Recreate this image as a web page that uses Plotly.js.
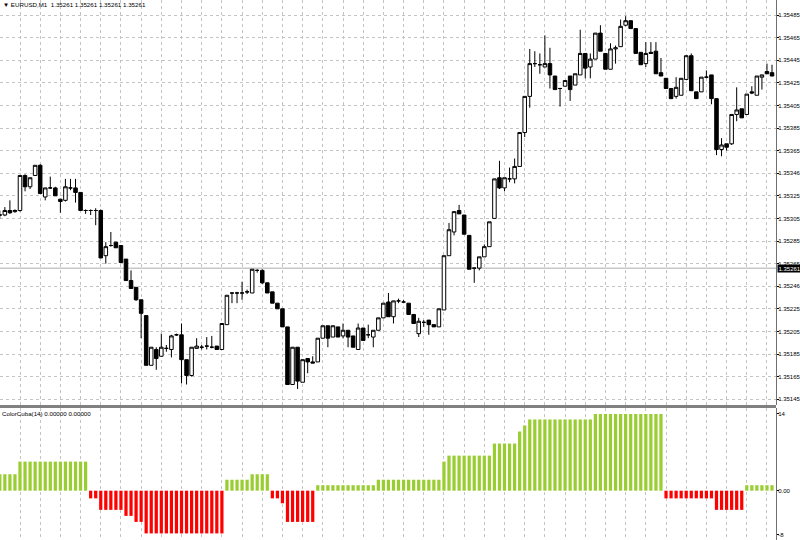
<!DOCTYPE html>
<html><head><meta charset="utf-8">
<script src="https://cdn.plot.ly/plotly-3.0.1.min.js"></script>
<style>html,body{margin:0;padding:0;background:#fff;}#chart{width:800px;height:540px;}</style>
</head><body><div id="chart"></div>
<script>
const symbolTitle = "EURUSD,M1";
const titleQuote = ["1.35261", "1.35261", "1.35261", "1.35261"];
const indicatorName = "ColorCuba(14)";
const indicatorQuote = ["0.00000", "0.00000"];
const currentPrice = 1.35261;
const currentPriceLabel = "1.35261";

const priceTickValues = [1.35485,1.35465,1.35445,1.35425,1.35405,1.35385,1.35365,1.35345,1.35325,1.35305,1.35285,1.35265,1.35245,1.35225,1.35205,1.35185,1.35165,1.35145];
const priceTickLabels = ["1.35485","1.35465","1.35445","1.35425","1.35405","1.35385","1.35365","1.35346","1.35325","1.35305","1.35285","1.35265","1.35246","1.35225","1.35205","1.35185","1.35165","1.35145"];

const open = [
1.35308,1.35308,1.35312,1.35311,1.35312,1.35343,1.35333,1.35343,1.35352,1.35324,
1.35332,1.35332,1.35322,1.35321,1.35332,1.35332,1.35328,1.35312,1.35312,1.35312,
1.35312,1.35272,1.35281,1.35284,1.35281,1.35269,1.35250,1.35244,1.35233,1.35219,
1.35175,1.35189,1.35183,1.35190,1.35189,1.35202,1.35202,1.35180,1.35166,1.35190,
1.35191,1.35192,1.35191,1.35192,1.35189,1.35211,1.35239,1.35239,1.35239,1.35240,
1.35239,1.35259,1.35259,1.35248,1.35240,1.35230,1.35225,1.35209,1.35158,1.35191,
1.35160,1.35181,1.35178,1.35178,1.35199,1.35210,1.35200,1.35209,1.35201,1.35206,
1.35201,1.35189,1.35208,1.35202,1.35200,1.35206,1.35217,1.35231,1.35218,1.35232,
1.35231,1.35230,1.35220,1.35203,1.35213,1.35215,1.35211,1.35209,1.35224,1.35272,
1.35293,1.35312,1.35308,1.35290,1.35261,1.35261,1.35271,1.35280,1.35305,1.35341,
1.35332,1.35340,1.35340,1.35351,1.35381,1.35413,1.35442,1.35441,1.35439,1.35442,
1.35431,1.35420,1.35422,1.35431,1.35423,1.35432,1.35451,1.35439,1.35446,1.35469,
1.35451,1.35437,1.35455,1.35457,1.35476,1.35480,1.35473,1.35452,1.35442,1.35452,
1.35453,1.35434,1.35429,1.35420,1.35413,1.35414,1.35428,1.35449,1.35417,1.35417,
1.35430,1.35432,1.35411,1.35366,1.35371,1.35371,1.35397,1.35402,1.35397,1.35417,
1.35414,1.35430,1.35435,1.35434];
const high = [
1.35312,1.35315,1.35321,1.35313,1.35343,1.35344,1.35341,1.35352,1.35353,1.35332,
1.35342,1.35333,1.35322,1.35340,1.35340,1.35340,1.35328,1.35313,1.35313,1.35314,
1.35313,1.35284,1.35293,1.35284,1.35281,1.35269,1.35259,1.35244,1.35233,1.35219,
1.35191,1.35191,1.35203,1.35193,1.35202,1.35203,1.35212,1.35180,1.35191,1.35199,
1.35193,1.35200,1.35201,1.35192,1.35212,1.35237,1.35239,1.35240,1.35249,1.35242,
1.35260,1.35260,1.35260,1.35248,1.35240,1.35230,1.35225,1.35209,1.35191,1.35191,
1.35180,1.35181,1.35183,1.35199,1.35210,1.35210,1.35210,1.35209,1.35212,1.35206,
1.35201,1.35212,1.35208,1.35211,1.35206,1.35217,1.35230,1.35239,1.35232,1.35234,
1.35233,1.35230,1.35220,1.35217,1.35215,1.35215,1.35211,1.35225,1.35272,1.35301,
1.35311,1.35317,1.35308,1.35290,1.35261,1.35271,1.35282,1.35302,1.35340,1.35356,
1.35341,1.35350,1.35358,1.35381,1.35413,1.35455,1.35453,1.35451,1.35467,1.35456,
1.35431,1.35420,1.35427,1.35431,1.35433,1.35472,1.35451,1.35451,1.35469,1.35476,
1.35451,1.35460,1.35458,1.35481,1.35484,1.35480,1.35473,1.35452,1.35461,1.35461,
1.35461,1.35447,1.35429,1.35420,1.35430,1.35429,1.35449,1.35451,1.35417,1.35430,
1.35436,1.35432,1.35411,1.35376,1.35371,1.35397,1.35421,1.35402,1.35415,1.35422,
1.35431,1.35432,1.35442,1.35441];
const low = [
1.35305,1.35307,1.35309,1.35310,1.35311,1.35329,1.35331,1.35343,1.35327,1.35321,
1.35331,1.35325,1.35310,1.35320,1.35330,1.35319,1.35312,1.35309,1.35308,1.35299,
1.35270,1.35265,1.35280,1.35279,1.35266,1.35250,1.35243,1.35232,1.35199,1.35175,
1.35175,1.35171,1.35183,1.35187,1.35182,1.35201,1.35159,1.35158,1.35165,1.35190,
1.35189,1.35189,1.35190,1.35189,1.35189,1.35211,1.35230,1.35230,1.35233,1.35238,
1.35239,1.35257,1.35247,1.35239,1.35230,1.35225,1.35209,1.35158,1.35158,1.35154,
1.35160,1.35168,1.35177,1.35178,1.35199,1.35191,1.35200,1.35200,1.35199,1.35191,
1.35191,1.35189,1.35197,1.35199,1.35191,1.35206,1.35217,1.35218,1.35212,1.35230,
1.35230,1.35220,1.35212,1.35200,1.35209,1.35202,1.35209,1.35209,1.35224,1.35272,
1.35290,1.35309,1.35291,1.35260,1.35248,1.35259,1.35271,1.35280,1.35305,1.35331,
1.35329,1.35337,1.35336,1.35351,1.35377,1.35403,1.35439,1.35433,1.35439,1.35420,
1.35419,1.35404,1.35422,1.35409,1.35423,1.35432,1.35429,1.35429,1.35446,1.35453,
1.35437,1.35437,1.35442,1.35457,1.35475,1.35473,1.35451,1.35441,1.35439,1.35451,
1.35433,1.35431,1.35420,1.35411,1.35411,1.35414,1.35428,1.35418,1.35411,1.35417,
1.35429,1.35406,1.35361,1.35360,1.35365,1.35370,1.35391,1.35394,1.35397,1.35415,
1.35414,1.35419,1.35433,1.35431];
const close = [
1.35308,1.35312,1.35310,1.35312,1.35343,1.35333,1.35341,1.35352,1.35327,1.35332,
1.35332,1.35325,1.35320,1.35333,1.35332,1.35328,1.35312,1.35312,1.35312,1.35312,
1.35270,1.35280,1.35281,1.35279,1.35266,1.35250,1.35243,1.35233,1.35221,1.35175,
1.35191,1.35181,1.35191,1.35190,1.35201,1.35202,1.35180,1.35166,1.35191,1.35192,
1.35191,1.35192,1.35191,1.35189,1.35212,1.35237,1.35239,1.35239,1.35239,1.35240,
1.35260,1.35259,1.35248,1.35239,1.35230,1.35225,1.35209,1.35158,1.35191,1.35161,
1.35180,1.35178,1.35177,1.35199,1.35210,1.35199,1.35210,1.35200,1.35206,1.35200,
1.35191,1.35208,1.35197,1.35202,1.35206,1.35217,1.35230,1.35218,1.35232,1.35232,
1.35231,1.35220,1.35212,1.35214,1.35213,1.35211,1.35209,1.35225,1.35272,1.35295,
1.35311,1.35309,1.35291,1.35260,1.35261,1.35271,1.35280,1.35302,1.35340,1.35332,
1.35341,1.35340,1.35351,1.35381,1.35413,1.35442,1.35442,1.35441,1.35442,1.35432,
1.35419,1.35420,1.35427,1.35419,1.35433,1.35451,1.35438,1.35446,1.35469,1.35453,
1.35437,1.35455,1.35456,1.35475,1.35480,1.35473,1.35451,1.35441,1.35451,1.35451,
1.35433,1.35431,1.35420,1.35411,1.35421,1.35429,1.35449,1.35418,1.35411,1.35430,
1.35430,1.35411,1.35366,1.35370,1.35368,1.35397,1.35401,1.35394,1.35415,1.35416,
1.35431,1.35432,1.35433,1.35431];

const cuba = [
3,3,3,3,
5.3,5.3,5.3,5.3,5.3,5.3,5.3,5.3,5.3,5.3,5.3,5.3,5.3,5.3,
-1.4,-1.4,
-3.5,-3.5,-3.5,-3.5,-3.5,
-4.6,-4.6,
-5.7,-5.7,
-7.8,-7.8,-7.8,-7.8,-7.8,-7.8,-7.8,-7.8,-7.8,-7.8,-7.8,-7.8,-7.8,-7.8,-7.8,-7.8,
2,2,2,2,2,
3,3,3,3,
-1.4,-1.4,
-2.3,
-5.7,-5.7,-5.7,-5.7,-5.7,-5.7,
1,1,1,1,1,1,1,1,1,1,1,1,
2,2,2,2,2,2,2,2,2,2,2,2,2,
5.3,
6.4,6.4,6.4,6.4,6.4,6.4,6.4,6.4,6.4,
8.6,8.6,8.6,8.6,8.6,
10.8,11.9,
13,13,13,13,13,13,13,13,13,13,13,13,13,
14,14,14,14,14,14,14,14,14,14,14,14,14,14,
-1.4,-1.4,-1.4,-1.4,-1.4,-1.4,-1.4,-1.4,-1.4,-1.4,
-3.5,-3.5,-3.5,-3.5,-3.5,-3.5,
1,1,1,1,1,1];
const cubaTickValues = [14, 0, -8];
const cubaTickLabels = ["14", "0.00", "-8"];

const barPos = open.map((_, i) => i);
const gridPos = [];
for (let g = 4; g < open.length; g += 4) gridPos.push(g);

const FONT = "Liberation Sans, Arial, sans-serif";
const GRID = "#c4c4c4";
const W = 800, H = 540, R = 24;
const FS = 6;
const py = p => (H - p) / H;  // pixel row -> paper y

const candles = {
  type: "candlestick", x: barPos, open: open, high: high, low: low, close: close,
  xaxis: "x", yaxis: "y", hoverinfo: "skip", whiskerwidth: 0,
  increasing: {line: {color: "#000000", width: 1}, fillcolor: "#ffffff"},
  decreasing: {line: {color: "#000000", width: 1}, fillcolor: "#000000"},
  showlegend: false
};
const hist = {
  type: "bar", x: barPos, y: cuba, xaxis: "x2", yaxis: "y2", width: 0.64,
  marker: {color: cuba.map(v => v >= 0 ? "#9ACD32" : "#FF0000"), line: {width: 0}},
  hoverinfo: "skip", showlegend: false
};

const xr = [0.0376, 153.79];
const xCommon = {
  range: xr, tickmode: "array", tickvals: gridPos, showticklabels: false, ticks: "",
  showgrid: true, gridcolor: GRID, griddash: "dot", gridwidth: 1, zeroline: false,
  showline: false, fixedrange: true
};
const yCommon = {
  side: "right", tickmode: "array", ticks: "outside", ticklen: 2, tickcolor: "#000000", tickwidth: 1,
  ticklabelstandoff: -2,
  showline: true, linecolor: "#707070", linewidth: 1, zeroline: false,
  tickfont: {family: FONT, size: FS, color: "#000000"}, fixedrange: true
};
const layout = {
  width: W, height: H, margin: {l: 0, r: R, t: 0, b: 0, pad: 0},
  paper_bgcolor: "#ffffff", plot_bgcolor: "#ffffff",
  font: {family: FONT, size: FS, color: "#000000"},
  showlegend: false, boxgap: 0.3, boxgroupgap: 0,
  xaxis: Object.assign({}, xCommon, {anchor: "y", rangeslider: {visible: false}}),
  xaxis2: Object.assign({}, xCommon, {anchor: "y2", matches: "x"}),
  yaxis: Object.assign({}, yCommon, {
    domain: [py(405), 1], range: [1.3513987, 1.354983], anchor: "x",
    tickvals: priceTickValues, ticktext: priceTickLabels,
    showgrid: true, gridcolor: GRID, griddash: "dot"
  }),
  yaxis2: Object.assign({}, yCommon, {
    domain: [0, py(408)], range: [-9.0, 15.09], anchor: "x2",
    tickvals: cubaTickValues, ticktext: cubaTickLabels, showgrid: false
  }),
  shapes: [
    {type: "line", xref: "paper", yref: "y", x0: 0, x1: 1, y0: currentPrice, y1: currentPrice,
     line: {color: "#c8c8c8", width: 1.5}, layer: "below"},
    {type: "line", xref: "paper", yref: "paper", x0: 0, x1: 1, y0: py(406.5), y1: py(406.5),
     line: {color: "#808080", width: 3}}
  ],
  annotations: [
    {xref: "paper", yref: "paper", x: 2 / (W - R), y: py(4), xanchor: "left", yanchor: "middle",
     text: "\u25BC " + symbolTitle + "  " + titleQuote.join(" "), showarrow: false,
     font: {family: FONT, size: 6.2, color: "#000000"}, borderpad: 0},
    {xref: "paper", yref: "paper", x: 1 / (W - R), y: py(413.5), xanchor: "left", yanchor: "middle",
     text: indicatorName + " " + indicatorQuote.join(" "), showarrow: false,
     font: {family: FONT, size: 6.2, color: "#000000"}, borderpad: 0},
    {xref: "paper", yref: "y", x: 1.0013, y: currentPrice, xanchor: "left", yanchor: "middle",
     text: currentPriceLabel, showarrow: false, bgcolor: "#000000", borderpad: 0.5,
     font: {family: FONT, size: FS, color: "#ffffff"}}
  ]
};
Plotly.newPlot("chart", [candles, hist], layout, {staticPlot: true, displayModeBar: false});
</script></body></html>
